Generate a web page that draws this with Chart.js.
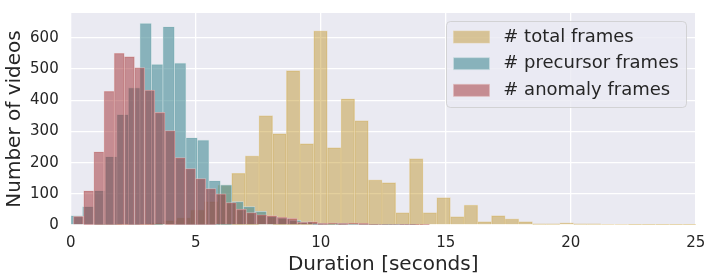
<!DOCTYPE html>
<html>
<head>
<meta charset="utf-8">
<script src="https://cdn.jsdelivr.net/npm/chart.js@4.4.1/dist/chart.umd.min.js"></script>
<style>
  html, body { margin: 0; padding: 0; background: #fff; }
  #wrap { width: 712px; height: 280px; }
</style>
</head>
<body>
<div id="wrap"><canvas id="myChart"></canvas></div>
<script>
// histogram bins: first left edge and bin width, in seconds
var totalStart = 0.42, totalWidth = 0.547
var precStart = 0.01, precWidth = 0.46
var anomStart = 0.11, anomWidth = 0.407

// counts per bin
var totalCounts = [0, 1, 1, 2, 3, 6, 14, 23, 48, 75, 128, 166, 222, 351, 293, 495, 261, 623, 248, 405,
  335, 145, 136, 40, 213, 40, 88, 27, 64, 11, 30, 20, 11, 4, 4, 7, 4, 4, 2, 2, 1, 1, 1, 1, 1]
var precCounts = [30, 59, 110, 219, 354, 440, 647, 515, 636, 519, 280, 272, 142, 129, 75, 59, 44, 27,
  22, 15, 10, 6, 4, 6, 3, 3, 2, 1, 1, 1]
var anomCounts = [28, 110, 235, 429, 551, 540, 505, 433, 361, 303, 216, 181, 149, 117, 100, 72, 51, 40,
  33, 30, 25, 21, 9, 11, 5, 7, 5, 7, 5, 3, 2, 2, 1, 1, 1]

var seriesNames = ['# total frames', '# precursor frames', '# anomaly frames']
var xTicks = [0, 5, 10, 15, 20, 25]
var yTicks = [0, 100, 200, 300, 400, 500, 600]

function toPoints(start, width, counts) {
  return counts.map((c, i) => ({ x: start + (i + 0.5) * width, y: c }))
}

const fontName = '"DejaVu Sans", sans-serif'
const textColor = '#262626'

const plotBg = {
  id: 'plotBg',
  beforeDraw(chart) {
    const { ctx, chartArea: a } = chart
    ctx.save()
    ctx.fillStyle = '#fff'
    ctx.fillRect(0, 0, chart.width, chart.height)
    ctx.fillStyle = '#EAEAF2'
    ctx.fillRect(a.left, a.top, a.right - a.left, a.bottom - a.top)
    ctx.restore()
  }
}

const legendBox = {
  id: 'legendBox',
  afterDraw(chart) {
    const ctx = chart.ctx
    ctx.save()
    ctx.beginPath()
    if (ctx.roundRect) ctx.roundRect(446.5, 21.5, 240, 86, 4)
    else ctx.rect(446.5, 21.5, 240, 86)
    ctx.fillStyle = 'rgba(234,234,242,0.8)'
    ctx.fill()
    ctx.strokeStyle = 'rgba(204,204,204,0.8)'
    ctx.lineWidth = 1
    ctx.stroke()
    const rows = [37, 63.7, 90.3]
    seriesNames.forEach((name, i) => {
      const ds = chart.data.datasets[i]
      ctx.fillStyle = ds.backgroundColor
      ctx.fillRect(453.5, rows[i] - 6, 36, 12)
      ctx.strokeStyle = ds.borderColor
      ctx.lineWidth = 0.8
      ctx.strokeRect(453.5, rows[i] - 6, 36, 12)
      ctx.fillStyle = textColor
      ctx.font = '18px ' + fontName
      ctx.textBaseline = 'middle'
      ctx.fillText(name, 503.3, rows[i])
    })
    ctx.restore()
  }
}

function xAxis(show) {
  const ax = {
    type: 'linear',
    display: show,
    min: 0,
    max: 25,
    offset: false,
    afterBuildTicks: a => { a.ticks = xTicks.map(v => ({ value: v })) },
    grid: { offset: false, color: '#fff', lineWidth: 1.3, drawTicks: false },
    border: { display: false },
    ticks: { padding: 9, color: textColor, font: { family: fontName, size: 15 } },
    title: {
      display: show, text: 'Duration [seconds]', color: textColor,
      font: { family: fontName, size: 20 }, padding: { top: 0, bottom: 3 }
    }
  }
  if (show) ax.afterFit = a => { a.height = 55; a.paddingLeft = 0; a.paddingRight = 0 }
  return ax
}

const data = {
  datasets: [{
    label: seriesNames[0],
    data: toPoints(totalStart, totalWidth, totalCounts),
    xAxisID: 'x',
    order: 3,
    backgroundColor: 'rgba(184,134,11,0.4)',
    borderColor: 'rgba(228,210,164,0.64)'
  }, {
    label: seriesNames[1],
    data: toPoints(precStart, precWidth, precCounts),
    xAxisID: 'x2',
    order: 2,
    backgroundColor: 'rgba(70,140,150,0.6)',
    borderColor: 'rgba(202,222,225,0.84)'
  }, {
    label: seriesNames[2],
    data: toPoints(anomStart, anomWidth, anomCounts),
    xAxisID: 'x3',
    order: 1,
    backgroundColor: 'rgba(160,45,50,0.5)',
    borderColor: 'rgba(225,186,186,0.75)'
  }]
}
data.datasets.forEach(d => {
  d.grouped = false
  d.barPercentage = 1
  d.categoryPercentage = 1
  d.borderWidth = 0.7
  d.borderSkipped = 'start'
})

const config = {
  type: 'bar',
  data: data,
  options: {
    responsive: true,
    maintainAspectRatio: false,
    animation: false,
    layout: { padding: { top: 13, right: 16.3, left: 0, bottom: 0 } },
    plugins: { legend: { display: false }, tooltip: { enabled: false } },
    scales: {
      x: xAxis(true),
      x2: xAxis(false),
      x3: xAxis(false),
      y: {
        type: 'linear',
        min: 0,
        max: 680,
        afterBuildTicks: ax => { ax.ticks = yTicks.map(v => ({ value: v })) },
        grid: { color: '#fff', lineWidth: 1.3, drawTicks: false },
        border: { display: false },
        ticks: { padding: 12, color: textColor, font: { family: fontName, size: 15 } },
        title: {
          display: true, text: 'Number of videos', color: textColor,
          font: { family: fontName, size: 20 }, padding: { top: 3, bottom: 0 }
        },
        afterFit: ax => { ax.width = 70.7; ax.paddingTop = 0; ax.paddingBottom = 0 }
      }
    }
  },
  plugins: [plotBg, legendBox]
}

const myChart = new Chart(document.getElementById('myChart'), config)
</script>
</body>
</html>
